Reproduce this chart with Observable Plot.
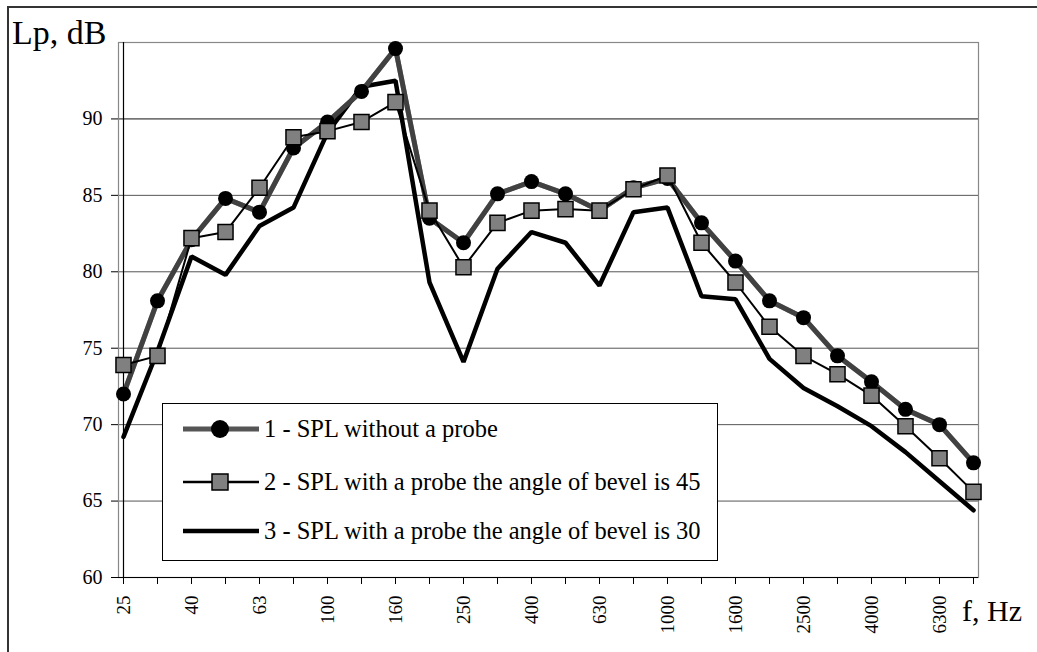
<!DOCTYPE html>
<html>
<head>
<meta charset="utf-8">
<script src="https://cdn.jsdelivr.net/npm/d3@7"></script>
<script src="https://cdn.jsdelivr.net/npm/@observablehq/plot@0.6"></script>
<style>
  body { margin: 0; background: #fff; }
  #wrap { position: relative; width: 1037px; height: 652px; overflow: hidden; font-family: "Liberation Serif", "Times New Roman", "DejaVu Serif", serif; color: #000; }
  #wrap *, #chart svg, #chart svg text { font-family: "Liberation Serif", "Times New Roman", "DejaVu Serif", serif !important; }
  #frame { position: absolute; left: 7px; top: 6px; width: 1200px; height: 800px; border-left: 2px solid #333; border-top: 2px solid #333; pointer-events: none; }
  #chart { position: absolute; left: 0; top: 0; }
  .axlab { position: absolute; white-space: nowrap; line-height: 1; }
  #legend { position: absolute; left: 162px; top: 403px; width: 554px; height: 156px; border: 1px solid #000; background: #fff; }
  .row { position: absolute; left: 20px; height: 30px; display: flex; align-items: center; white-space: nowrap; font-size: 24.5px; }
  .row svg { display: block; margin-right: 5px; }
</style>
</head>
<body>
<div id="wrap">
  <div id="chart"></div>
  <div id="frame"></div>
  <div class="axlab" id="ylab" style="left:12px; top:16px; font-size:34px;"></div>
  <div class="axlab" id="xlab" style="left:962px; top:596px; font-size:30px;"></div>
  <div id="legend"></div>
</div>
<script>
// Data (1/3-octave band centre frequencies, Hz)
const freqs = ["25","31.5","40","50","63","80","100","125","160","200","250","315","400","500","630","800","1000","1250","1600","2000","2500","3150","4000","5000","6300","8000"];
const xLabels = ["25","40","63","100","160","250","400","630","1000","1600","2500","4000","6300"];
const yTicks = [60, 65, 70, 75, 80, 85, 90];
const yGrid = [65, 70, 75, 80, 85, 90];

// Series values, dB
const spl1 = [72.0, 78.1, 82.1, 84.8, 83.9, 88.1, 89.8, 91.8, 94.6, 83.5, 81.9, 85.1, 85.9, 85.1, 84.0, 85.5, 86.1, 83.2, 80.7, 78.1, 77.0, 74.5, 72.8, 71.0, 70.0, 67.5];
const spl2 = [73.9, 74.5, 82.2, 82.6, 85.5, 88.8, 89.2, 89.8, 91.1, 84.0, 80.3, 83.2, 84.0, 84.1, 84.0, 85.4, 86.3, 81.9, 79.3, 76.4, 74.5, 73.3, 71.9, 69.9, 67.8, 65.6];
const spl3 = [69.2, 74.8, 81.0, 79.8, 83.0, 84.2, 89.1, 92.1, 92.5, 79.3, 74.1, 80.2, 82.6, 81.9, 79.1, 83.9, 84.2, 78.4, 78.2, 74.3, 72.4, 71.2, 69.9, 68.2, 66.3, 64.4];

const seriesNames = [
  "1 - SPL without a probe",
  "2 - SPL with a probe the angle of bevel is 45",
  "3 - SPL with a probe the angle of bevel is 30"
];
const yTitle = "Lp, dB";
const xTitle = "f, Hz";

const fx = (d, i) => freqs[i];
const fy = d => d;
const serif = "'Liberation Serif', 'Times New Roman', 'DejaVu Serif', serif";

const chart = Plot.plot({
  width: 1037,
  height: 652,
  marginLeft: 118,
  marginRight: 59,
  marginTop: 42,
  marginBottom: 75,
  style: { fontFamily: serif, background: "transparent", color: "#000", overflow: "visible" },
  x: { type: "point", domain: freqs, padding: 0 },
  y: { domain: [60, 95] },
  marks: [
    Plot.ruleY(yGrid, { stroke: (d) => d === 90 ? "#111" : "#555", strokeWidth: 1 }),
    Plot.frame({ stroke: "#888", strokeWidth: 1.2 }),
    Plot.ruleX([freqs[0]], { stroke: "#000", strokeWidth: 1.2 }),
    Plot.ruleY([60], { stroke: "#000", strokeWidth: 1.2 }),
    Plot.axisY({ ticks: yTicks, tickSize: 7, tickPadding: 9, fontSize: 20, fontFamily: serif, label: null, stroke: "#000" }),
    Plot.axisX({ ticks: freqs, tickSize: 7, tickFormat: () => "", label: null, stroke: "#000" }),
    Plot.axisX({ ticks: xLabels, tickSize: 0, tickPadding: 18, tickRotate: -90, fontSize: 19, fontFamily: serif, label: null }),
    // series 3
    Plot.line(spl3, { x: fx, y: fy, stroke: "#000", strokeWidth: 4.5, strokeLinejoin: "miter" }),
    // series 1
    Plot.line(spl1, { x: fx, y: fy, stroke: "#555", strokeWidth: 5 }),
    Plot.line(spl1, { x: fx, y: fy, stroke: "#333", strokeWidth: 5, strokeDasharray: "1,1", strokeOpacity: 0.6 }),
    Plot.dot(spl1, { x: fx, y: fy, r: 7.5, fill: "#000", stroke: "none" }),
    // series 2
    Plot.line(spl2, { x: fx, y: fy, stroke: "#000", strokeWidth: 2 }),
    Plot.dot(spl2, { x: fx, y: fy, symbol: "square", r: 8.5, fill: "#808080", stroke: "#000", strokeWidth: 1.5 })
  ]
});
document.getElementById("chart").appendChild(chart);
document.getElementById("ylab").textContent = yTitle;
document.getElementById("xlab").textContent = xTitle;

// Legend
const legend = document.getElementById("legend");
const rowCenters = [25, 78, 127];
const ns = "http://www.w3.org/2000/svg";
seriesNames.forEach((name, k) => {
  const row = document.createElement("div");
  row.className = "row";
  row.style.top = (rowCenters[k] - 15) + "px";
  const svg = document.createElementNS(ns, "svg");
  svg.setAttribute("width", 76);
  svg.setAttribute("height", 30);
  const line = document.createElementNS(ns, "line");
  line.setAttribute("x1", 0); line.setAttribute("x2", 76);
  line.setAttribute("y1", 15); line.setAttribute("y2", 15);
  if (k === 0) { line.setAttribute("stroke", "#555"); line.setAttribute("stroke-width", 5); }
  else if (k === 1) { line.setAttribute("stroke", "#000"); line.setAttribute("stroke-width", 2.5); }
  else { line.setAttribute("stroke", "#000"); line.setAttribute("stroke-width", 4.5); }
  svg.appendChild(line);
  if (k === 0) {
    const c = document.createElementNS(ns, "circle");
    c.setAttribute("cx", 37); c.setAttribute("cy", 15); c.setAttribute("r", 9);
    c.setAttribute("fill", "#000");
    svg.appendChild(c);
  } else if (k === 1) {
    const r = document.createElementNS(ns, "rect");
    r.setAttribute("x", 29); r.setAttribute("y", 7); r.setAttribute("width", 16); r.setAttribute("height", 16);
    r.setAttribute("fill", "#808080"); r.setAttribute("stroke", "#000"); r.setAttribute("stroke-width", 1.5);
    svg.appendChild(r);
  }
  row.appendChild(svg);
  const t = document.createElement("span");
  t.textContent = name;
  row.appendChild(t);
  legend.appendChild(row);
});
</script>
</body>
</html>
